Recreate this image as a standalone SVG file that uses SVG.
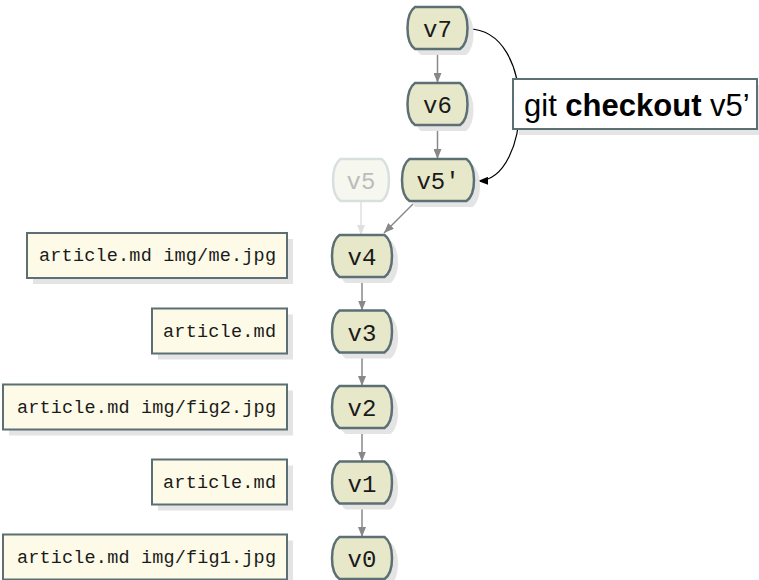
<svg xmlns="http://www.w3.org/2000/svg" width="759" height="580" viewBox="0 0 759 580">
<defs>
<style>
.node{fill:#e7e8c9;stroke:#5b6f74;stroke-width:2.5}
.ghost{fill:#f6f7ef;stroke:#d9dfdf;stroke-width:2.5}
.shadow{fill:#e4e4e4}
.file{fill:#fdfbe7;stroke:#5b6f74;stroke-width:2}
.vlab{font-family:"Liberation Mono",monospace;font-size:24px;fill:#1a1a1a;text-anchor:middle}
.glab{font-family:"Liberation Mono",monospace;font-size:24px;fill:#bcbcbc;text-anchor:middle}
.flab{font-family:"Liberation Mono",monospace;font-size:18.5px;fill:#1a1a1a}
.edge{stroke:#888;stroke-width:1.5;fill:none}
.gedge{stroke:#e0e0e0;stroke-width:1.5;fill:none}
.cedge{stroke:#000;stroke-width:1.2;fill:none}
</style>
<marker id="ag" viewBox="0 0 10 8" refX="10" refY="4" markerWidth="10" markerHeight="8" markerUnits="userSpaceOnUse" orient="auto"><path d="M0,0 L10,4 L0,8 z" fill="#888"/></marker>
<marker id="al" viewBox="0 0 10 8" refX="10" refY="4" markerWidth="10" markerHeight="8" markerUnits="userSpaceOnUse" orient="auto"><path d="M0,0 L10,4 L0,8 z" fill="#e0e0e0"/></marker>
<marker id="ab" viewBox="0 0 10 8" refX="10" refY="4" markerWidth="10" markerHeight="8" markerUnits="userSpaceOnUse" orient="auto"><path d="M0,0 L10,4 L0,8 z" fill="#000"/></marker>
</defs>
<rect width="759" height="580" fill="#fff"/>

<g id="connectors">
<path class="cedge" d="M468,29 C538,29 532,180 478,181" marker-end="url(#ab)"/>
<line class="edge" x1="437.5" y1="49" x2="437.5" y2="83" marker-end="url(#ag)"/>
<line class="edge" x1="437.5" y1="125" x2="437.5" y2="159" marker-end="url(#ag)"/>
<line class="gedge" x1="361" y1="201" x2="361" y2="235" marker-end="url(#al)"/>
<line class="edge" x1="416" y1="201" x2="384" y2="233" marker-end="url(#ag)"/>
<line class="edge" x1="362" y1="277" x2="362" y2="310.5" marker-end="url(#ag)"/>
<line class="edge" x1="362" y1="352.5" x2="362" y2="386" marker-end="url(#ag)"/>
<line class="edge" x1="362" y1="428" x2="362" y2="461.5" marker-end="url(#ag)"/>
<line class="edge" x1="362" y1="503.5" x2="362" y2="537" marker-end="url(#ag)"/>
</g>

<g id="label-checkout">
<rect x="519" y="85" width="244" height="50" class="shadow"/>
<rect x="513" y="79" width="244" height="50" fill="#fff" stroke="#5b6f74" stroke-width="2"/>
<text x="524" y="116" font-family="Liberation Sans, Arial, sans-serif" font-size="31" fill="#000">git <tspan font-weight="bold">checkout</tspan> v5’</text>
</g>

<g id="v7">
<path class="shadow" transform="translate(6,6)" d="M415,7 H460 C470,14 470,42 460,49 H415 C405,42 405,14 415,7 Z"/>
<path class="node" d="M415,7 H460 C470,14 470,42 460,49 H415 C405,42 405,14 415,7 Z"/>
<text class="vlab" x="437.5" y="37">v7</text>
</g>
<g id="v6">
<path class="shadow" transform="translate(6,6)" d="M415,83 H460 C470,90 470,118 460,125 H415 C405,118 405,90 415,83 Z"/>
<path class="node" d="M415,83 H460 C470,90 470,118 460,125 H415 C405,118 405,90 415,83 Z"/>
<text class="vlab" x="437.5" y="113">v6</text>
</g>
<g id="v5prime">
<path class="shadow" transform="translate(6,6)" d="M409.5,159 H466.5 C476.5,166 476.5,194 466.5,201 H409.5 C399.5,194 399.5,166 409.5,159 Z"/>
<path class="node" d="M409.5,159 H466.5 C476.5,166 476.5,194 466.5,201 H409.5 C399.5,194 399.5,166 409.5,159 Z"/>
<text class="vlab" x="438" y="189">v5'</text>
</g>
<g id="v5">
<path class="ghost" d="M340.5,159 H381.5 C391.5,166 391.5,194 381.5,201 H340.5 C330.5,194 330.5,166 340.5,159 Z"/>
<text class="glab" x="361" y="189">v5</text>
</g>
<g id="v4">
<path class="shadow" transform="translate(6,6)" d="M339.5,235 H384.5 C394.5,242 394.5,270 384.5,277 H339.5 C329.5,270 329.5,242 339.5,235 Z"/>
<path class="node" d="M339.5,235 H384.5 C394.5,242 394.5,270 384.5,277 H339.5 C329.5,270 329.5,242 339.5,235 Z"/>
<text class="vlab" x="362" y="265">v4</text>
</g>
<g id="v3">
<path class="shadow" transform="translate(6,6)" d="M339.5,310.5 H384.5 C394.5,317.5 394.5,345.5 384.5,352.5 H339.5 C329.5,345.5 329.5,317.5 339.5,310.5 Z"/>
<path class="node" d="M339.5,310.5 H384.5 C394.5,317.5 394.5,345.5 384.5,352.5 H339.5 C329.5,345.5 329.5,317.5 339.5,310.5 Z"/>
<text class="vlab" x="362" y="340.5">v3</text>
</g>
<g id="v2">
<path class="shadow" transform="translate(6,6)" d="M339.5,386 H384.5 C394.5,393 394.5,421 384.5,428 H339.5 C329.5,421 329.5,393 339.5,386 Z"/>
<path class="node" d="M339.5,386 H384.5 C394.5,393 394.5,421 384.5,428 H339.5 C329.5,421 329.5,393 339.5,386 Z"/>
<text class="vlab" x="362" y="416">v2</text>
</g>
<g id="v1">
<path class="shadow" transform="translate(6,6)" d="M339.5,461.5 H384.5 C394.5,468.5 394.5,496.5 384.5,503.5 H339.5 C329.5,496.5 329.5,468.5 339.5,461.5 Z"/>
<path class="node" d="M339.5,461.5 H384.5 C394.5,468.5 394.5,496.5 384.5,503.5 H339.5 C329.5,496.5 329.5,468.5 339.5,461.5 Z"/>
<text class="vlab" x="362" y="491.5">v1</text>
</g>
<g id="v0">
<path class="shadow" transform="translate(6,6)" d="M339.5,537 H384.5 C394.5,544 394.5,572 384.5,579 H339.5 C329.5,572 329.5,544 339.5,537 Z"/>
<path class="node" d="M339.5,537 H384.5 C394.5,544 394.5,572 384.5,579 H339.5 C329.5,572 329.5,544 339.5,537 Z"/>
<text class="vlab" x="362" y="567">v0</text>
</g>

<g id="files-v4">
<rect class="shadow" x="33" y="239" width="260" height="45"/>
<rect class="file" x="27" y="233" width="260" height="45"/>
<text class="flab" x="39" y="261" textLength="237" lengthAdjust="spacing">article.md img/me.jpg</text>
</g>
<g id="files-v3">
<rect class="shadow" x="158" y="314.5" width="135" height="45"/>
<rect class="file" x="152" y="308.5" width="135" height="45"/>
<text class="flab" x="163" y="337" textLength="113" lengthAdjust="spacing">article.md</text>
</g>
<g id="files-v2">
<rect class="shadow" x="9" y="390.5" width="284" height="45"/>
<rect class="file" x="3" y="384.5" width="284" height="45"/>
<text class="flab" x="17" y="413" textLength="259" lengthAdjust="spacing">article.md img/fig2.jpg</text>
</g>
<g id="files-v1">
<rect class="shadow" x="158" y="465.5" width="135" height="45"/>
<rect class="file" x="152" y="459.5" width="135" height="45"/>
<text class="flab" x="163" y="488" textLength="113" lengthAdjust="spacing">article.md</text>
</g>
<g id="files-v0">
<rect class="shadow" x="9" y="540.5" width="284" height="45"/>
<rect class="file" x="3" y="534.5" width="284" height="45"/>
<text class="flab" x="17" y="563" textLength="259" lengthAdjust="spacing">article.md img/fig1.jpg</text>
</g>
</svg>
